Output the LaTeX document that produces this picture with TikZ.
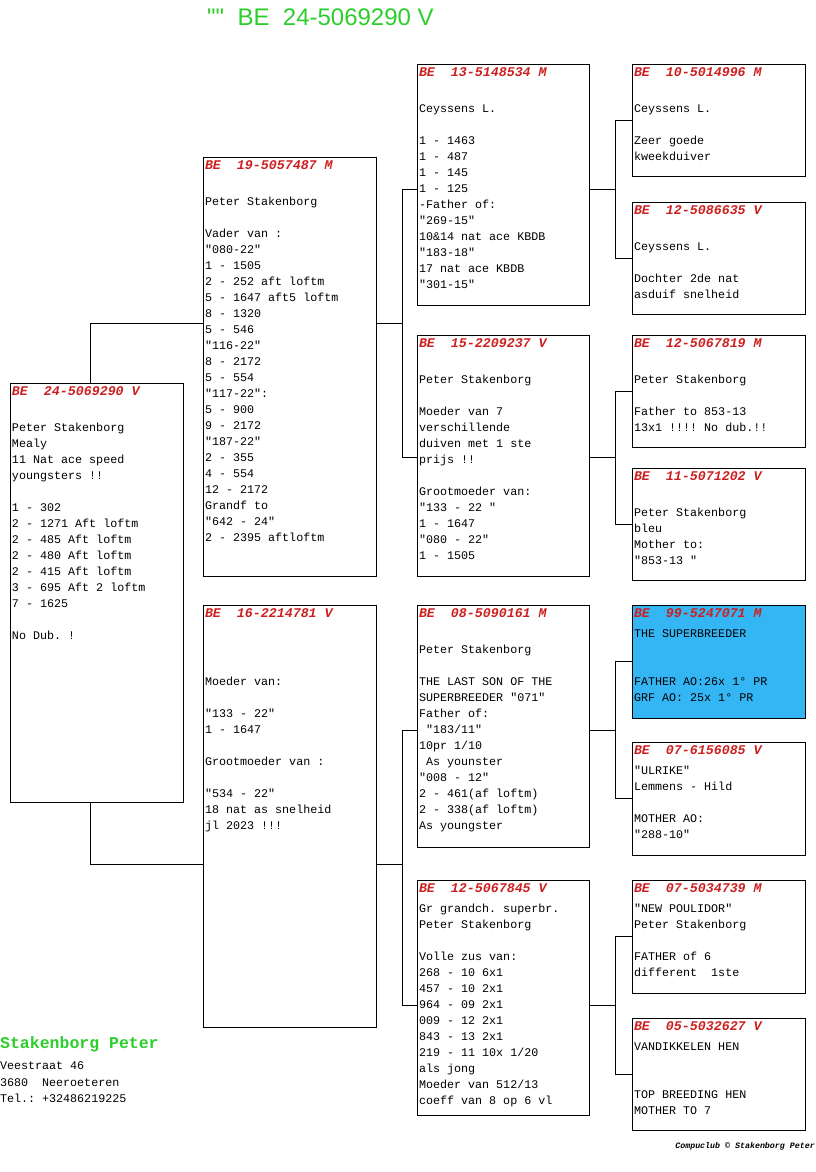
\documentclass[tikz,border=0pt]{standalone}
\usepackage{fontspec}
\usetikzlibrary{calc}
\newfontfamily\mono{Liberation Mono}[Ligatures=TeXOff]
\newfontfamily\sansf{Liberation Sans}[Ligatures=TeXOff]
\definecolor{labred}{RGB}{204,32,32}
\definecolor{titgreen}{RGB}{44,206,44}
\definecolor{sbblue}{RGB}{52,182,245}
\newcommand\lab[1]{{\color{labred}\fontsize{13.3}{16}\selectfont\bfseries\itshape\rule{0pt}{12.3pt}#1}}
\frenchspacing
\begin{document}
\begin{tikzpicture}[x=1pt,y=-1pt,
  box/.style={draw, line width=0.9pt, inner sep=0pt, outer sep=0pt, anchor=north west, minimum width=173pt},
  box3/.style={box, minimum width=172pt},
  txt/.style={anchor=north west, inner sep=0pt, outer sep=0pt, align=left, font=\mono\fontsize{11.7}{16}\selectfont},
  link/.style={draw, line width=0.9pt}]
\useasboundingbox (0,0) rectangle (816,1172);

% title
\node[anchor=base west, inner sep=0pt, font=\sansf\fontsize{24}{28}\selectfont, text=titgreen] (title) at (207,25.5) {""\ \ BE\ \ 24-5069290 V};

% boxes
\node[box, minimum height=419pt] (g1) at (10,383) {};
\node[box, minimum height=419pt] (g2a) at (203,157) {};
\node[box, minimum height=422pt] (g2b) at (203,605) {};
\node[box3, minimum height=241pt] (g3a) at (417,64) {};
\node[box3, minimum height=241pt] (g3b) at (417,335) {};
\node[box3, minimum height=242pt] (g3c) at (417,605) {};
\node[box3, minimum height=235pt] (g3d) at (417,880) {};
\node[box, minimum height=112pt] (g4a) at (632,64) {};
\node[box, minimum height=112pt] (g4b) at (632,202) {};
\node[box, minimum height=112pt] (g4c) at (632,335) {};
\node[box, minimum height=112pt] (g4d) at (632,468) {};
\node[box, minimum height=113pt, fill=sbblue] (g4e) at (632,605) {};
\node[box, minimum height=113pt] (g4f) at (632,742) {};
\node[box, minimum height=113pt] (g4g) at (632,880) {};
\node[box, minimum height=112pt] (g4h) at (632,1018) {};

% texts
\node[txt] (g1t) at ([xshift=2pt]g1.north west) {\lab{BE\ \ 24-5069290 V}\\[20.5pt]
Peter Stakenborg\\
Mealy\\
11 Nat ace speed\\
youngsters !!\\[16pt]
1 - 302\\
2 - 1271 Aft loftm\\
2 - 485 Aft loftm\\
2 - 480 Aft loftm\\
2 - 415 Aft loftm\\
3 - 695 Aft 2 loftm\\
7 - 1625\\[16pt]
No Dub. !};

\node[txt] (g2at) at ([xshift=2pt]g2a.north west) {\lab{BE\ \ 19-5057487 M}\\[20.5pt]
Peter Stakenborg\\[16pt]
Vader van :\\
"080-22"\\
1 - 1505\\
2 - 252 aft loftm\\
5 - 1647 aft5 loftm\\
8 - 1320\\
5 - 546\\
"116-22"\\
8 - 2172\\
5 - 554\\
"117-22":\\
5 - 900\\
9 - 2172\\
"187-22"\\
2 - 355\\
4 - 554\\
12 - 2172\\
Grandf to\\
"642 - 24"\\
2 - 2395 aftloftm};

\node[txt] (g2bt) at ([xshift=2pt]g2b.north west) {\lab{BE\ \ 16-2214781 V}\\[52.5pt]
Moeder van:\\[16pt]
"133 - 22"\\
1 - 1647\\[16pt]
Grootmoeder van :\\[16pt]
"534 - 22"\\
18 nat as snelheid\\
jl 2023 !!!};

\node[txt] (g3at) at ([xshift=2pt]g3a.north west) {\lab{BE\ \ 13-5148534 M}\\[20.5pt]
Ceyssens L.\\[16pt]
1 - 1463\\
1 - 487\\
1 - 145\\
1 - 125\\
-Father of:\\
"269-15"\\
10\&14 nat ace KBDB\\
"183-18"\\
17 nat ace KBDB\\
"301-15"};

\node[txt] (g3bt) at ([xshift=2pt]g3b.north west) {\lab{BE\ \ 15-2209237 V}\\[20.5pt]
Peter Stakenborg\\[16pt]
Moeder van 7\\
verschillende\\
duiven met 1 ste\\
prijs !!\\[16pt]
Grootmoeder van:\\
"133 - 22 "\\
1 - 1647\\
"080 - 22"\\
1 - 1505};

\node[txt] (g3ct) at ([xshift=2pt]g3c.north west) {\lab{BE\ \ 08-5090161 M}\\[20.5pt]
Peter Stakenborg\\[16pt]
THE LAST SON OF THE\\
SUPERBREEDER "071"\\
Father of:\\
\mbox{}\ "183/11"\\
10pr 1/10\\
\mbox{}\ As younster\\
"008 - 12"\\
2 - 461(af loftm)\\
2 - 338(af loftm)\\
As youngster};

\node[txt] (g3dt) at ([xshift=2pt]g3d.north west) {\lab{BE\ \ 12-5067845 V}\\[4.5pt]
Gr grandch. superbr.\\
Peter Stakenborg\\[16pt]
Volle zus van:\\
268 - 10 6x1\\
457 - 10 2x1\\
964 - 09 2x1\\
009 - 12 2x1\\
843 - 13 2x1\\
219 - 11 10x 1/20\\
als jong\\
Moeder van 512/13\\
coeff van 8 op 6 vl};

\node[txt] (g4at) at ([xshift=2pt]g4a.north west) {\lab{BE\ \ 10-5014996 M}\\[20.5pt]
Ceyssens L.\\[16pt]
Zeer goede\\
kweekduiver};

\node[txt] (g4bt) at ([xshift=2pt]g4b.north west) {\lab{BE\ \ 12-5086635 V}\\[20.5pt]
Ceyssens L.\\[16pt]
Dochter 2de nat\\
asduif snelheid};

\node[txt] (g4ct) at ([xshift=2pt]g4c.north west) {\lab{BE\ \ 12-5067819 M}\\[20.5pt]
Peter Stakenborg\\[16pt]
Father to 853-13\\
13x1 !!!! No dub.!!};

\node[txt] (g4dt) at ([xshift=2pt]g4d.north west) {\lab{BE\ \ 11-5071202 V}\\[20.5pt]
Peter Stakenborg\\
bleu\\
Mother to:\\
"853-13 "};

\node[txt] (g4et) at ([xshift=2pt]g4e.north west) {\lab{BE\ \ 99-5247071 M}\\[4.5pt]
THE SUPERBREEDER\\[32pt]
FATHER AO:26x 1° PR\\
GRF AO: 25x 1° PR};

\node[txt] (g4ft) at ([xshift=2pt]g4f.north west) {\lab{BE\ \ 07-6156085 V}\\[4.5pt]
"ULRIKE"\\
Lemmens - Hild\\[16pt]
MOTHER AO:\\
"288-10"};

\node[txt] (g4gt) at ([xshift=2pt]g4g.north west) {\lab{BE\ \ 07-5034739 M}\\[4.5pt]
"NEW POULIDOR"\\
Peter Stakenborg\\[16pt]
FATHER of 6\\
different\ \ 1ste};

\node[txt] (g4ht) at ([xshift=2pt]g4h.north west) {\lab{BE\ \ 05-5032627 V}\\[4.5pt]
VANDIKKELEN HEN\\[32pt]
TOP BREEDING HEN\\
MOTHER TO 7};

% connectors
\coordinate (b4) at (615,0);
\coordinate (b3) at (402,0);
\coordinate (m3a) at ($(g4a.west)!0.5!(g4b.west)$);
\coordinate (m3b) at ($(g4c.west)!0.5!(g4d.west)$);
\coordinate (m3c) at ($(g4e.west)!0.5!(g4f.west)$);
\coordinate (m3d) at ($(g4g.west)!0.5!(g4h.west)$);
\coordinate (m2a) at ($(m3a)!0.5!(m3b)$);
\coordinate (m2b) at ($(m3c)!0.5!(m3d)+(0,-3)$);

\draw[link] (g4a.west) -- (b4 |- g4a.west) -- (b4 |- g4b.west) -- (g4b.west);
\draw[link] (g4c.west) -- (b4 |- g4c.west) -- (b4 |- g4d.west) -- (g4d.west);
\draw[link] (g4e.west) -- (b4 |- g4e.west) -- (b4 |- g4f.west) -- (g4f.west);
\draw[link] (g4g.west) -- (b4 |- g4g.west) -- (b4 |- g4h.west) -- (g4h.west);
\draw[link] (g3a.east |- m3a) -- (b4 |- m3a);
\draw[link] (g3b.east |- m3b) -- (b4 |- m3b);
\draw[link] (g3c.east |- m3c) -- (b4 |- m3c);
\draw[link] (g3d.east |- m3d) -- (b4 |- m3d);
\draw[link] (g3a.west |- m3a) -- (b3 |- m3a) -- (b3 |- m3b) -- (g3b.west |- m3b);
\draw[link] (g3c.west |- m3c) -- (b3 |- m3c) -- (b3 |- m3d) -- (g3d.west |- m3d);
\draw[link] (g2a.east |- m2a) -- (b3 |- m2a);
\draw[link] (g2b.east |- m2b) -- (b3 |- m2b);
\draw[link] ([xshift=-6.5pt]g1.north) |- (g2a.west |- m2a);
\draw[link] ([xshift=-6.5pt]g1.south) |- (g2b.west |- m2b);

% owner
\node[anchor=base west, inner sep=0pt, font=\mono\fontsize{16.5}{18}\selectfont\bfseries, text=titgreen] (owner) at (0,1048.5) {Stakenborg Peter};
\node[txt, font=\mono\fontsize{11.7}{16.5}\selectfont] (addr) at (0,1060.5) {\rule{0pt}{9pt}Veestraat 46\\
3680\ \ Neeroeteren\\
Tel.: +32486219225};

% footer
\node[anchor=base east, inner sep=0pt, font=\mono\fontsize{8.3}{10}\selectfont\bfseries\itshape] (foot) at (815,1148) {Compuclub © Stakenborg Peter};
\end{tikzpicture}
\end{document}
